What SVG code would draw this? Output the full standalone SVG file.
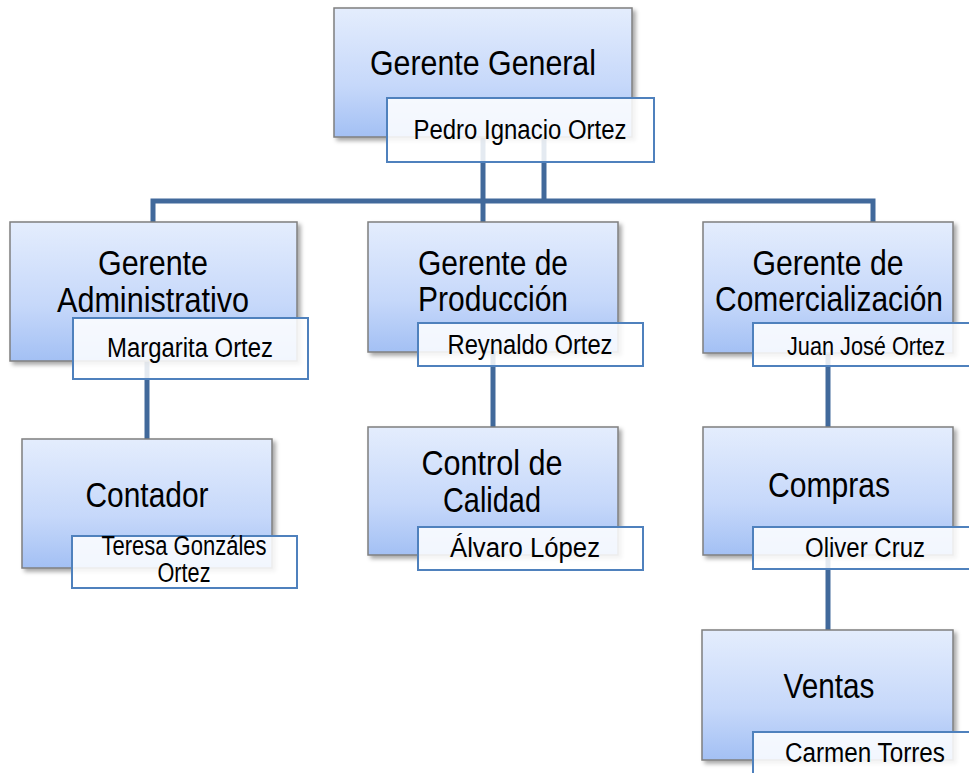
<svg xmlns="http://www.w3.org/2000/svg" width="969" height="773" viewBox="0 0 969 773">
<defs>
<linearGradient id="g" x1="0" y1="0" x2="0" y2="1">
<stop offset="0" stop-color="#e4edfd"/>
<stop offset="0.6" stop-color="#c6d8fa"/>
<stop offset="1" stop-color="#a3c0f4"/>
</linearGradient>
<filter id="sh" x="-10%" y="-10%" width="130%" height="130%">
<feDropShadow dx="3" dy="3" stdDeviation="2" flood-color="#000" flood-opacity="0.35"/>
</filter>
</defs>
<style>
.box{fill:url(#g);stroke:#7f7f7f;stroke-width:1.5;filter:url(#sh)}
.nm{fill:#fff;fill-opacity:0.86;stroke:#4f81bd;stroke-width:2}
.t{font-family:"Liberation Sans",Arial,sans-serif;font-size:35px;fill:#000;text-anchor:middle}
.n{font-family:"Liberation Sans",Arial,sans-serif;font-size:27px;fill:#000;text-anchor:middle}
.c{fill:none;stroke:#41699b;stroke-width:5;stroke-linejoin:miter}
</style>
<rect width="969" height="773" fill="#fff"/>
<g id="connectors">
<path class="c" d="M483 137V222"/>
<path class="c" d="M544 137V201"/>
<path class="c" d="M153 222V201H873V222"/>
<path class="c" d="M147 361V439"/>
<path class="c" d="M493 352V427"/>
<path class="c" d="M828 353V427"/>
<path class="c" d="M828 555V630"/>
</g>
<g id="gerente-general">
<rect class="box" x="334" y="8" width="298" height="129"/>
<text class="t" x="483" y="75" textLength="226" lengthAdjust="spacingAndGlyphs">Gerente General</text>
<rect class="nm" x="387" y="98" width="267" height="64"/>
<text class="n" x="520" y="139" textLength="213" lengthAdjust="spacingAndGlyphs">Pedro Ignacio Ortez</text>
</g>
<g id="gerente-administrativo">
<rect class="box" x="10" y="222" width="287" height="139"/>
<text class="t" x="153" y="275" textLength="110" lengthAdjust="spacingAndGlyphs">Gerente</text>
<text class="t" x="153" y="312" textLength="192" lengthAdjust="spacingAndGlyphs">Administrativo</text>
<rect class="nm" x="73" y="318" width="235" height="61"/>
<text class="n" x="190" y="357" textLength="166" lengthAdjust="spacingAndGlyphs">Margarita Ortez</text>
</g>
<g id="contador">
<rect class="box" x="22" y="439" width="250" height="129"/>
<text class="t" x="147" y="507" textLength="123" lengthAdjust="spacingAndGlyphs">Contador</text>
<rect class="nm" x="72" y="536" width="225" height="52"/>
<text class="n" x="184" y="555" textLength="165" lengthAdjust="spacingAndGlyphs">Teresa Gonzáles</text>
<text class="n" x="184" y="582" textLength="53" lengthAdjust="spacingAndGlyphs">Ortez</text>
</g>
<g id="gerente-produccion">
<rect class="box" x="368" y="222" width="250" height="130"/>
<text class="t" x="493" y="275" textLength="150" lengthAdjust="spacingAndGlyphs">Gerente de</text>
<text class="t" x="493" y="311" textLength="150" lengthAdjust="spacingAndGlyphs">Producción</text>
<rect class="nm" x="418" y="323" width="225" height="43"/>
<text class="n" x="530" y="354" textLength="165" lengthAdjust="spacingAndGlyphs">Reynaldo Ortez</text>
</g>
<g id="control-calidad">
<rect class="box" x="368" y="427" width="250" height="128"/>
<text class="t" x="492" y="475" textLength="141" lengthAdjust="spacingAndGlyphs">Control de</text>
<text class="t" x="492" y="512" textLength="98" lengthAdjust="spacingAndGlyphs">Calidad</text>
<rect class="nm" x="418" y="527" width="225" height="43"/>
<text class="n" x="525" y="557" textLength="150" lengthAdjust="spacingAndGlyphs">Álvaro López</text>
</g>
<g id="gerente-comercializacion">
<rect class="box" x="703" y="222" width="250" height="131"/>
<text class="t" x="828" y="275" textLength="151" lengthAdjust="spacingAndGlyphs">Gerente de</text>
<text class="t" x="829" y="311" textLength="228" lengthAdjust="spacingAndGlyphs">Comercialización</text>
<rect class="nm" x="753" y="323" width="225" height="43"/>
<text class="n" x="866" y="355" style="font-size:25px" textLength="158" lengthAdjust="spacingAndGlyphs">Juan José Ortez</text>
</g>
<g id="compras">
<rect class="box" x="703" y="427" width="250" height="128"/>
<text class="t" x="829" y="497" textLength="122" lengthAdjust="spacingAndGlyphs">Compras</text>
<rect class="nm" x="753" y="527" width="225" height="42"/>
<text class="n" x="865" y="557" textLength="120" lengthAdjust="spacingAndGlyphs">Oliver Cruz</text>
</g>
<g id="ventas">
<rect class="box" x="702" y="630" width="251" height="130"/>
<text class="t" x="829" y="698" textLength="91" lengthAdjust="spacingAndGlyphs">Ventas</text>
<rect class="nm" x="753" y="732" width="225" height="60"/>
<text class="n" x="865" y="762" textLength="160" lengthAdjust="spacingAndGlyphs">Carmen Torres</text>
</g>
</svg>
